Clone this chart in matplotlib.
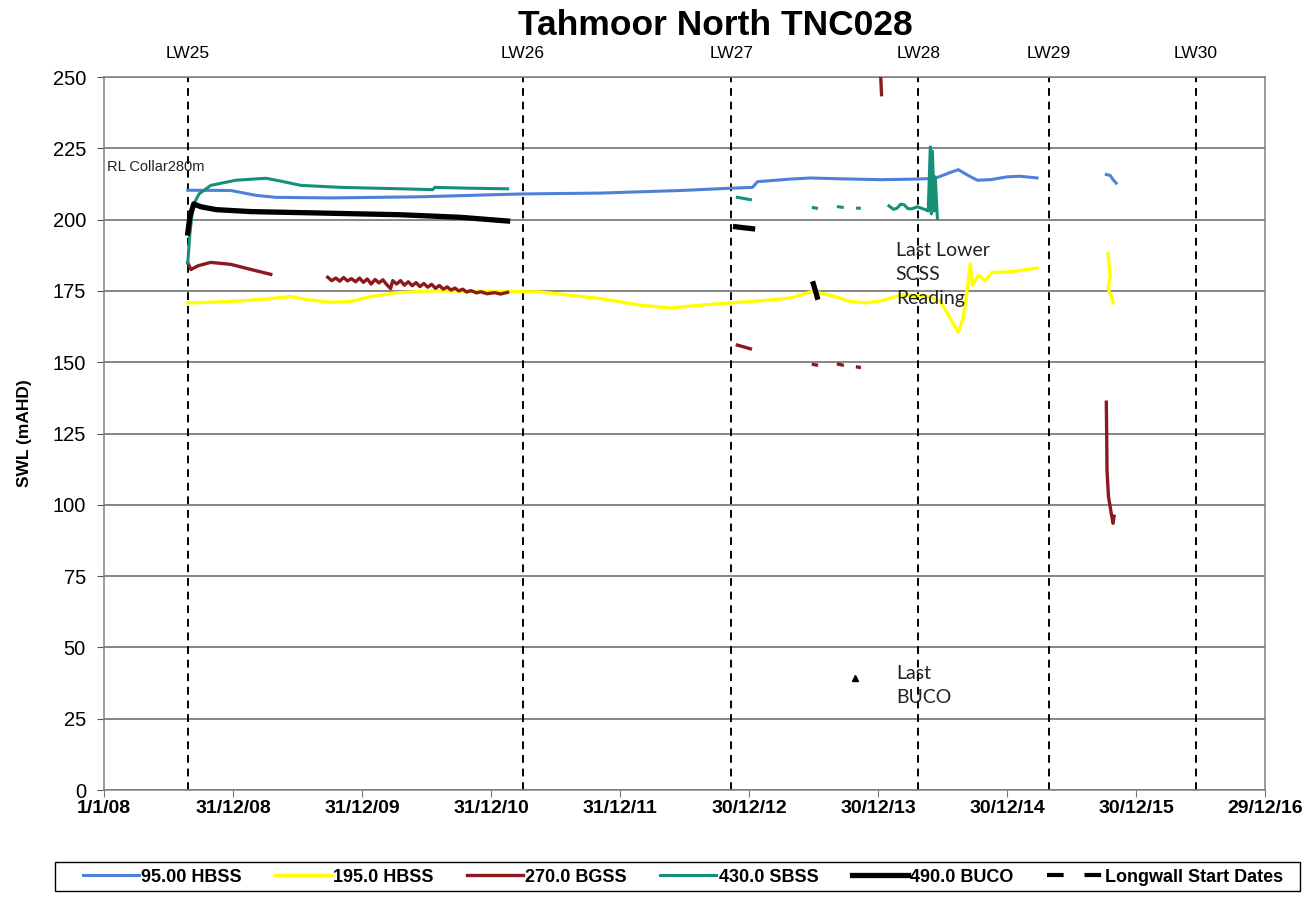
import matplotlib
matplotlib.use("Agg")
import matplotlib.pyplot as plt
import matplotlib.transforms as mtransforms
from matplotlib.lines import Line2D
from matplotlib.patches import Rectangle
import pandas as pd
import numpy as np

nan = np.nan

# ---------------- DATA ---------------- #
blue_dates = ["2008-08-25", "2008-12-25", "2009-03-06", "2009-05-01", "2009-10-04", "2010-06-15",
              "2010-12-02", "2011-03-31", "2011-11-06", "2012-06-19", "2012-11-08", "2013-01-09",
              "2013-01-23", "2013-03-15", "2013-04-26", "2013-06-22", "2013-09-14", "2014-01-06",
              "2014-04-20", "2014-06-10", "2014-07-22", "2014-08-14", "2014-09-11", "2014-10-07",
              "2014-11-13", "2014-12-31", "2015-02-05", "2015-03-25",
              "2015-10-01",
              "2015-10-07", "2015-10-18", "2015-10-26", "2015-11-04"]
blue_vals = [210.3, 210.2, 208.5, 207.8, 207.6, 208.0,
             208.6, 209.0, 209.3, 210.2, 211.0, 211.3,
             213.3, 213.8, 214.2, 214.6, 214.3, 214.0,
             214.2, 214.5, 216.5, 217.5, 215.5, 213.8,
             214.0, 215.0, 215.2, 214.6,
             nan,
             215.8, 215.5, 214.0, 212.8]

yellow_dates = ["2008-08-25", "2008-10-29", "2009-01-22", "2009-04-17", "2009-06-13", "2009-07-25",
                "2009-10-04", "2009-11-29", "2010-01-25", "2010-04-05", "2010-07-13", "2011-02-16",
                "2011-05-20", "2011-11-06", "2012-02-27", "2012-05-22", "2012-08-15", "2012-11-08",
                "2013-01-31", "2013-04-26", "2013-06-27", "2013-08-17", "2013-10-13", "2013-11-24",
                "2014-01-06", "2014-03-08", "2014-05-13", "2014-06-24", "2014-07-17", "2014-08-14",
                "2014-08-28", "2014-09-09", "2014-09-17", "2014-09-23", "2014-10-10", "2014-10-29",
                "2014-11-18", "2014-12-11", "2015-01-14", "2015-03-25",
                "2015-10-01",
                "2015-10-12", "2015-10-18", "2015-10-12", "2015-10-23", "2015-10-26"]
yellow_vals = [170.8, 171.0, 171.5, 172.3, 173.0, 172.0,
               171.0, 171.3, 173.0, 174.3, 175.0, 174.8,
               174.6, 172.3, 170.0, 169.0, 170.0, 170.8,
               171.5, 172.5, 174.8, 173.5, 171.3, 170.8,
               171.5, 173.6, 173.2, 171.5, 166.5, 160.5,
               165.5, 176.0, 184.5, 177.0, 180.5, 178.5,
               181.5, 181.5, 181.8, 183.0,
               nan,
               188.0, 180.0, 176.0, 172.5, 170.8]

red_dates = ["2008-08-25", "2008-09-03", "2008-09-23", "2008-10-29", "2008-12-25", "2009-02-20",
             "2009-04-17",
             "2009-06-01",
             "2009-09-25", "2009-10-06", "2009-10-18", "2009-10-29", "2009-11-09", "2009-11-20",
             "2009-12-01", "2009-12-13", "2009-12-24", "2010-01-04", "2010-01-15", "2010-01-26",
             "2010-02-06", "2010-02-17", "2010-02-28", "2010-03-11", "2010-03-22", "2010-03-28",
             "2010-04-08", "2010-04-19", "2010-04-30", "2010-05-11", "2010-05-22", "2010-06-02",
             "2010-06-13", "2010-06-24", "2010-07-05", "2010-07-16", "2010-07-27", "2010-08-07",
             "2010-08-18", "2010-08-29", "2010-09-09", "2010-09-20", "2010-10-01", "2010-10-12",
             "2010-10-23", "2010-11-04", "2010-11-20", "2010-12-02", "2010-12-20", "2011-01-10",
             "2011-01-27", "2011-02-16",
             "2012-01-01",
             "2012-11-27", "2013-01-03",
             "2013-03-01",
             "2013-06-30", "2013-07-09",
             "2013-08-01",
             "2013-09-09", "2013-09-20",
             "2013-10-01",
             "2013-11-02", "2013-11-07",
             "2013-12-01",
             "2014-01-06", "2014-01-09",
             "2014-06-01",
             "2015-10-07", "2015-10-08", "2015-10-09", "2015-10-13", "2015-10-21", "2015-10-26",
             "2015-10-29"]
red_vals = [184.8, 182.5, 183.8, 185.0, 184.3, 182.5,
            180.8,
            nan,
            179.8, 178.6, 179.5, 178.4, 179.7, 178.5,
            179.3, 178.2, 179.5, 178.0, 179.2, 177.4,
            179.0, 177.8, 178.9, 177.2, 175.8, 178.6,
            177.4, 178.6, 177.0, 178.2, 176.8, 177.9,
            176.5, 177.6, 176.3, 177.3, 175.9, 176.9,
            175.6, 176.4, 175.3, 176.0, 175.0, 175.6,
            174.6, 175.1, 174.3, 174.7, 174.0, 174.4,
            173.9, 174.5,
            nan,
            156.0, 154.7,
            nan,
            149.2, 149.0,
            nan,
            149.3, 149.0,
            nan,
            148.3, 148.2,
            nan,
            252.0, 243.8,
            nan,
            136.0, 125.0, 112.0, 103.0, 97.0, 93.5,
            96.0]

teal_dates = ["2008-08-25", "2008-08-31", "2008-09-09", "2008-09-26", "2008-10-29", "2009-01-08",
              "2009-04-03", "2009-05-15", "2009-07-11", "2009-11-01", "2010-04-20", "2010-07-19",
              "2010-07-25", "2010-11-04", "2011-02-16",
              "2012-01-01",
              "2012-11-27", "2013-01-03",
              "2013-03-01",
              "2013-06-30", "2013-07-09",
              "2013-08-01",
              "2013-09-09", "2013-09-20",
              "2013-10-01",
              "2013-11-02", "2013-11-07",
              "2013-12-01",
              "2014-01-30", "2014-02-12", "2014-02-22", "2014-03-04", "2014-03-14", "2014-03-25",
              "2014-04-05", "2014-04-20", "2014-05-13", "2014-05-21", "2014-05-27", "2014-05-30",
              "2014-06-02", "2014-06-07", "2014-06-10", "2014-06-16"]
teal_vals = [184.8, 195.0, 205.0, 209.0, 212.0, 213.8,
             214.5, 213.5, 212.0, 211.3, 210.8, 210.5,
             211.3, 211.0, 210.8,
             nan,
             207.8, 207.0,
             nan,
             204.2, 204.0,
             nan,
             204.5, 204.3,
             nan,
             204.0, 204.0,
             nan,
             204.8, 203.6, 204.0, 205.4, 205.2, 203.8,
             203.8, 204.5, 203.5, 203.0, 225.5, 202.0,
             224.0, 203.0, 215.0, 200.5]

black_dates = ["2008-08-25", "2008-08-31", "2008-09-11", "2008-10-01", "2008-11-13", "2009-02-20",
               "2009-09-06", "2010-04-20", "2010-10-06", "2011-02-16",
               "2012-01-01",
               "2012-11-22", "2012-12-11", "2013-01-09",
               "2013-03-01",
               "2013-06-30", "2013-07-06", "2013-07-11"]
black_vals = [195.3, 201.0, 205.5, 204.5, 203.5, 202.8,
              202.3, 201.7, 200.8, 199.5,
              nan,
              197.5, 197.2, 196.8,
              nan,
              177.5, 175.0, 172.8]

last_buco_date = "2013-10-27"
last_buco_val = 39.3

lw_names = ["LW25", "LW26", "LW27", "LW28", "LW29", "LW30"]
lw_dates = ["2008-08-25", "2011-03-31", "2012-11-10", "2014-04-23", "2015-04-28", "2016-06-17"]

tick_dates = ["2008-01-01", "2008-12-31", "2009-12-31", "2010-12-31", "2011-12-31",
              "2012-12-30", "2013-12-30", "2014-12-30", "2015-12-30", "2016-12-29"]
tick_labels = ["1/1/08", "31/12/08", "31/12/09", "31/12/10", "31/12/11",
               "30/12/12", "30/12/13", "30/12/14", "30/12/15", "29/12/16"]

series_names = ["95.00 HBSS", "195.0 HBSS", "270.0 BGSS", "430.0 SBSS", "490.0 BUCO"]

# ---------------- PLOT ---------------- #
plt.rcParams['font.family'] = ['Liberation Sans', 'DejaVu Sans']

fig = plt.figure(figsize=(13.16, 8.97), dpi=100)
ax = fig.add_axes([104 / 1316, 107 / 897, 1161 / 1316, 713 / 897])

d = pd.to_datetime
ax.plot(d(blue_dates), blue_vals, color="#4F81D9", lw=2.2, label=series_names[0], zorder=3)
ax.plot(d(yellow_dates), yellow_vals, color="#FFFF00", lw=2.4, label=series_names[1], zorder=3)
ax.plot(d(red_dates), red_vals, color="#8B1A1F", lw=2.4, label=series_names[2], zorder=4)
ax.plot(d(teal_dates), teal_vals, color="#17907A", lw=2.2, label=series_names[3], zorder=4)
ax.plot(d(black_dates), black_vals, color="black", lw=3.8, label=series_names[4], zorder=5)
ax.plot(d([last_buco_date]), [last_buco_val], marker="^", color="black", ms=4, ls="none", zorder=5)

trans = mtransforms.blended_transform_factory(ax.transData, ax.transAxes)
for name, dt in zip(lw_names, lw_dates):
    ax.axvline(d(dt), color="black", lw=1.4, ls=(0, (4, 3)), zorder=2)
    ax.text(d(dt), 1.033, name, transform=trans, ha="center", va="center", fontsize=12.5)

ax.set_ylim(0, 250)
ax.set_yticks(np.arange(0, 251, 25))
ax.set_xlim(d(tick_dates[0]), d(tick_dates[-1]))
ax.set_xticks(d(tick_dates))
ax.set_xticklabels(tick_labels, fontsize=14, fontweight="bold")
ax.tick_params(axis="y", labelsize=14.5, length=5, pad=8, color="#555555")
ax.tick_params(axis="x", length=5, color="#777777", pad=2)
ax.yaxis.grid(True, color="#666666", lw=1.1)
ax.set_axisbelow(True)
for s in ax.spines.values():
    s.set_color("#808080")
    s.set_linewidth(1.1)

ax.set_ylabel("SWL (mAHD)", fontsize=12.5, fontweight="bold")
ax.yaxis.set_label_coords(-0.062, 0.5)

fig.text(715 / 1316, 1 - 35 / 897, "Tahmoor North TNC028", fontsize=25.5, fontweight="bold",
         ha="center", va="baseline")

ax.text(0.003, 0.874, "RL Collar280m", transform=ax.transAxes, fontsize=10.5, va="center", color="#222222")
ax.text(0.682, 0.768, "Last Lower\nSCSS\nReading", transform=ax.transAxes, fontsize=14,
        va="top", family="Lato", color="#222222", linespacing=1.5)
ax.text(0.682, 0.176, "Last\nBUCO", transform=ax.transAxes, fontsize=14,
        va="top", family="Lato", color="#222222", linespacing=1.5)

# legend box across the bottom
fig.add_artist(Rectangle((55 / 1316, 6 / 897), 1245 / 1316, 29 / 897, transform=fig.transFigure,
                         fill=False, ec="black", lw=1.0))
handles, labels = ax.get_legend_handles_labels()
handles.append(Line2D([0], [0], color="black", lw=3, ls=(0, (4, 5))))
labels.append("Longwall Start Dates")
fig.legend(handles, labels, loc="center left", ncol=6,
           bbox_to_anchor=(83 / 1316, 20 / 897),
           prop={"weight": "bold", "size": 13}, frameon=False,
           handlelength=3.1, handletextpad=0.12, columnspacing=1.85, borderpad=0, borderaxespad=0)

fig.savefig("out.png", dpi=100)
